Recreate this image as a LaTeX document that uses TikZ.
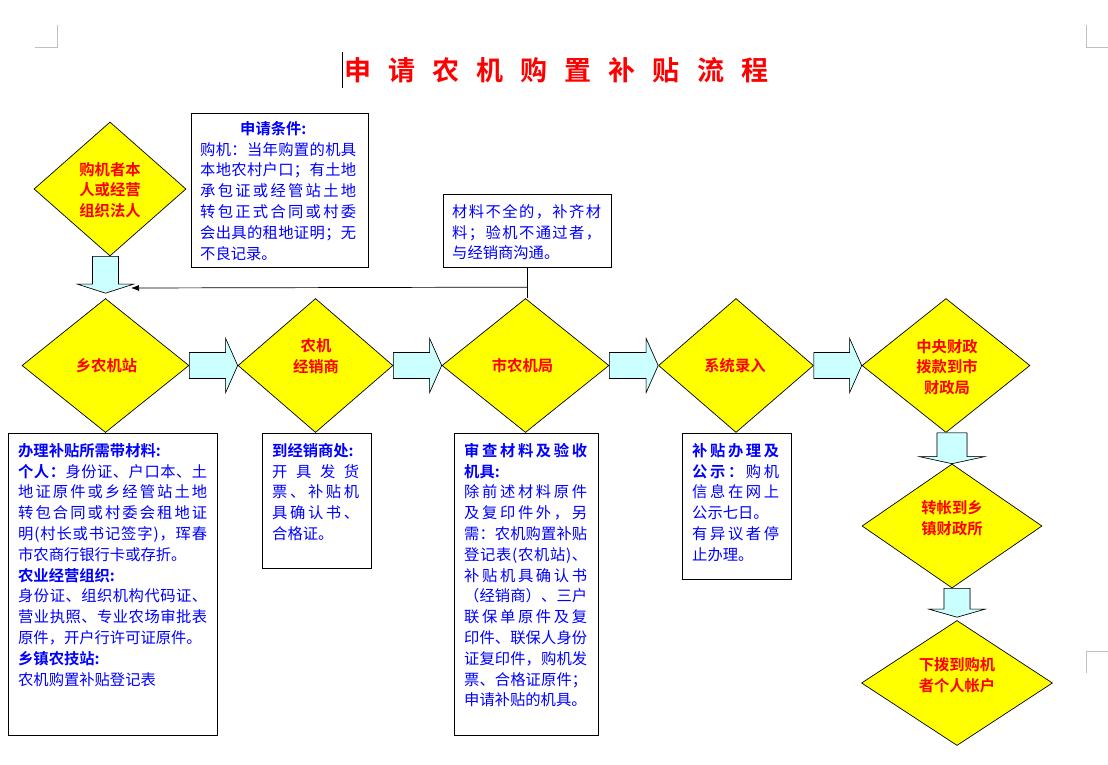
\documentclass[tikz,border=0pt]{standalone}
\usepackage{fontspec}
\setmainfont{Noto Sans CJK SC}[BoldFont={Noto Sans CJK SC Bold}]
\usetikzlibrary{shapes.geometric,arrows.meta,calc}
\definecolor{dred}{HTML}{FF0000}
\definecolor{dblue}{HTML}{0000FF}
\definecolor{dyellow}{HTML}{FFFF00}
\definecolor{dcyan}{HTML}{CCFFFF}
\definecolor{markgray}{HTML}{BFBFBF}
\definecolor{shadowgray}{HTML}{8C8C8C}
\ExplSyntaxOn
\NewDocumentCommand \spreadbox { m m }
  {
    \hbox_to_wd:nn { #1 }
      {
        \tl_map_inline:nn { #2 }
          {
            \token_if_cs:NTF ##1 { ##1 } { ##1 \hfil }
          }
        \unskip
      }
  }
\NewDocumentCommand \jl { m }
  {
    \spreadbox { \linewidth } { #1 } \par
  }
\ExplSyntaxOff
\newcommand\harrowpath[3]{%
  \filldraw[#3] let \p1=(#1.east), \p2=(#2.west) in
    (\x1,\y1+13pt) -- (\x2-12pt,\y1+13pt) -- (\x2-12pt,\y1+27pt) -- (\x2,\y1)
    -- (\x2-12pt,\y1-27pt) -- (\x2-12pt,\y1-13pt) -- (\x1,\y1-13pt) -- cycle;}
\newcommand\harrow[2]{%
  \harrowpath{#1}{#2}{shadowgray,draw=shadowgray,shift={(1.3pt,-1.3pt)}}%
  \harrowpath{#1}{#2}{blockarrow}}
\newcommand\varrowpath[7]{%
  \filldraw[#7] let \p1=(#1.south), \p2=(#2.north) in
    (\x2-#3,\y1) -- (\x2+#3,\y1) -- (\x2+#3,\y2+#6+#5) -- (\x2+#4,\y2+#6+#5)
    -- (\x2,\y2+#6) -- (\x2-#4,\y2+#6+#5) -- (\x2-#3,\y2+#6+#5) -- cycle;}
\newcommand\varrow[6]{%
  \varrowpath{#1}{#2}{#3}{#4}{#5}{#6}{shadowgray,draw=shadowgray,shift={(1.3pt,-1.3pt)}}%
  \varrowpath{#1}{#2}{#3}{#4}{#5}{#6}{blockarrow}}
\begin{document}
\begin{tikzpicture}[x=1pt,y=-1pt,
  dia/.style={diamond, draw=black, line width=0.7pt, fill=dyellow, inner sep=0pt},
  dtext/.style={text=dred, font={\bfseries\fontsize{15.3}{20.8}\selectfont}, align=center, inner sep=0pt},
  box/.style={draw=black, line width=0.9pt, fill=white, anchor=north west, inner sep=0pt},
  btext/.style={text=dblue, font={\fontsize{15.3}{20.8}\selectfont}, anchor=north west, inner sep=0pt},
  blockarrow/.style={fill=dcyan, draw=black, line width=0.6pt},
  thinline/.style={draw=black, line width=0.7pt},
  pagemark/.style={draw=markgray, line width=0.8pt}]
\useasboundingbox (0,0) rectangle (1108,765);
\fill[white] (0,0) rectangle (1108,765);
% page marks
\draw[pagemark] (35,47) -- (57,47) -- (57,25);
\draw[pagemark] (1086,25) -- (1086,47) -- (1108,47);
\draw[pagemark] (1086,673) -- (1086,651) -- (1108,651);
% title
\draw[black, line width=1pt] (342,52) -- (342,88);
\node[text=dred, font={\bfseries\fontsize{27}{27}\selectfont}, anchor=west, inner sep=0pt] (title) at (344,70)
  {\spreadbox{424pt}{申请农机购置补贴流程}};
% diamonds
\node[dia, minimum width=152pt, minimum height=134pt] (d1) at (110,189) {};
\node[dia, minimum width=167pt, minimum height=134pt] (d2) at (105.5,365.5) {};
\node[dia, minimum width=155pt, minimum height=134pt] (d3) at (315.5,365.5) {};
\node[dia, minimum width=167pt, minimum height=134pt] (d4) at (525.5,365.5) {};
\node[dia, minimum width=155pt, minimum height=134pt] (d5) at (736,365.5) {};
\node[dia, minimum width=168pt, minimum height=134pt] (d6) at (946,365.5) {};
\node[dia, minimum width=180pt, minimum height=124pt] (d7) at (952,526) {};
\node[dia, minimum width=191pt, minimum height=125pt] (d8) at (957,683) {};
\node[dtext] (d1t) at ($(d1)+(0,1)$) {购机者本\\人或经营\\组织法人};
\node[dtext] (d2t) at ($(d2)+(1,0.5)$) {乡农机站};
\node[dtext] (d3t) at ($(d3)+(0.5,-9.5)$) {农机\\经销商};
\node[dtext] (d4t) at ($(d4)+(-3,0.5)$) {市农机局};
\node[dtext] (d5t) at ($(d5)+(-1,0.5)$) {系统录入};
\node[dtext] (d6t) at ($(d6)+(1,1.5)$) {中央财政\\拨款到市\\财政局};
\node[dtext] (d7t) at ($(d7)+(0,-7.5)$) {转帐到乡\\镇财政所};
\node[dtext] (d8t) at ($(d8)+(0,-8)$) {下拨到购机\\者个人帐户};
% block arrows
\harrow{d2}{d3}
\harrow{d3}{d4}
\harrow{d4}{d5}
\harrow{d5}{d6}
\varrow{d1}{d2}{13pt}{28pt}{9pt}{5pt}
\varrow{d6}{d7}{15pt}{32.5pt}{7pt}{0pt}
\varrow{d7}{d8}{13pt}{28pt}{8pt}{3pt}
% boxes
\node[box, minimum width=177pt, minimum height=154pt] (b0) at (191,113) {};
\node[box, minimum width=168pt, minimum height=73pt] (note) at (443,194) {};
\node[box, minimum width=209pt, minimum height=302pt] (b1) at (8,433) {};
\node[box, minimum width=109pt, minimum height=135pt] (b2) at (262,433) {};
\node[box, minimum width=144pt, minimum height=302pt] (b3) at (454,433) {};
\node[box, minimum width=109pt, minimum height=146pt] (b4) at (682,433) {};
% thin connector
\coordinate (j) at ($(note.south |- d4.north)+(0,-11)$);
\coordinate (jend) at (131,288);
\draw[thinline] (note.south) -- (note.south |- d4.north);
\draw[thinline, -{Latex[length=8pt,width=6pt]}] (j) -- (jend);
% texts
\node[btext, text width=156pt] (b0t) at ($(b0.north west)+(9,8)$) {%
\hspace*{40pt}{\bfseries 申请条件:}\par
\jl{购机：当年购置的机具}
\jl{本地农村户口；有土地}
\jl{承包证或经管站土地}
\jl{转包正式合同或村委}
\jl{会出具的租地证明；无}
不良记录。};
\node[btext, text width=149pt] (notet) at ($(note.north west)+(9,10)$) {%
\jl{材料不全的，补齐材}
\jl{料；验机不通过者，}
与经销商沟通。};
\node[btext, text width=189pt] (b1t) at ($(b1.north west)+(10,10)$) {%
{\bfseries 办理补贴所需带材料:}\par
\jl{\bfseries 个人：\mdseries 身份证、户口本、土}
\jl{地证原件或乡经管站土地}
\jl{转包合同或村委会租地证}
\jl{明(村长或书记签字)，珲春}
市农商行银行卡或存折。\par
{\bfseries 农业经营组织:}\par
\jl{身份证、组织机构代码证、}
\jl{营业执照、专业农场审批表}
原件，开户行许可证原件。\par
{\bfseries 乡镇农技站:}\par
农机购置补贴登记表};
\node[btext, text width=87pt] (b2t) at ($(b2.north west)+(10,10)$) {%
{\bfseries 到经销商处:}\par
\jl{开具发货}
\jl{票、补贴机}
\jl{具确认书、}
合格证。};
\node[btext, text width=123pt] (b3t) at ($(b3.north west)+(10,10)$) {%
\jl{\bfseries 审查材料及验收}
{\bfseries 机具:}\par
\jl{除前述材料原件}
\jl{及复印件外，另}
\jl{需：农机购置补贴}
\jl{登记表(农机站)、}
\jl{补贴机具确认书}
\jl{（经销商）、三户}
\jl{联保单原件及复}
\jl{印件、联保人身份}
\jl{证复印件，购机发}
\jl{票、合格证原件；}
申请补贴的机具。};
\node[btext, text width=87pt] (b4t) at ($(b4.north west)+(10,10)$) {%
\jl{\bfseries 补贴办理及}
\jl{\bfseries 公示：\mdseries 购机}
\jl{信息在网上}
公示七日。\par
\jl{有异议者停}
止办理。};
\end{tikzpicture}
\end{document}
